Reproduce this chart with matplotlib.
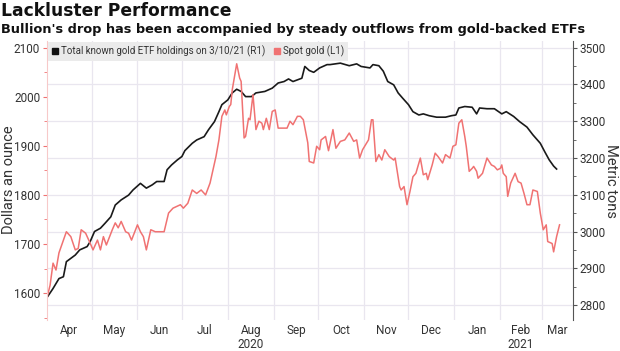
import matplotlib
matplotlib.use("Agg")
import matplotlib.pyplot as plt
from matplotlib.lines import Line2D
from matplotlib.ticker import MultipleLocator
import pandas as pd

plt.rcParams['font.family'] = ['Roboto', 'DejaVu Sans']

# spot gold, dollars an ounce (left axis)
gold_dates = [
    "2020-04-01", "2020-04-03", "2020-04-05", "2020-04-07", "2020-04-09", "2020-04-14",
    "2020-04-17", "2020-04-20", "2020-04-22", "2020-04-24", "2020-04-27", "2020-04-30",
    "2020-05-02", "2020-05-05", "2020-05-07", "2020-05-09", "2020-05-11", "2020-05-15",
    "2020-05-17", "2020-05-19", "2020-05-21", "2020-05-24", "2020-05-26", "2020-05-28",
    "2020-06-01", "2020-06-03", "2020-06-05", "2020-06-07", "2020-06-10", "2020-06-13",
    "2020-06-19", "2020-06-22", "2020-06-25", "2020-06-30", "2020-07-02", "2020-07-05",
    "2020-07-08", "2020-07-11", "2020-07-14", "2020-07-17", "2020-07-20", "2020-07-24",
    "2020-07-26", "2020-07-28", "2020-07-30", "2020-07-31", "2020-08-02", "2020-08-03",
    "2020-08-04", "2020-08-07", "2020-08-09", "2020-08-10", "2020-08-12", "2020-08-13",
    "2020-08-15", "2020-08-16", "2020-08-18", "2020-08-20", "2020-08-22", "2020-08-24",
    "2020-08-25", "2020-08-27", "2020-08-29", "2020-08-31", "2020-09-02", "2020-09-04",
    "2020-09-10", "2020-09-12", "2020-09-14", "2020-09-17", "2020-09-19", "2020-09-21",
    "2020-09-24", "2020-09-25", "2020-09-28", "2020-09-30", "2020-10-02", "2020-10-03",
    "2020-10-06", "2020-10-08", "2020-10-11", "2020-10-13", "2020-10-16", "2020-10-19",
    "2020-10-22", "2020-10-25", "2020-10-27", "2020-10-29", "2020-10-31", "2020-11-04",
    "2020-11-06", "2020-11-07", "2020-11-09", "2020-11-11", "2020-11-13", "2020-11-15",
    "2020-11-18", "2020-11-21", "2020-11-22", "2020-11-25", "2020-11-26", "2020-11-28",
    "2020-11-30", "2020-12-02", "2020-12-04", "2020-12-06", "2020-12-09", "2020-12-11",
    "2020-12-13", "2020-12-14", "2020-12-17", "2020-12-19", "2020-12-21", "2020-12-24",
    "2020-12-26", "2020-12-29", "2020-12-31", "2021-01-02", "2021-01-04", "2021-01-06",
    "2021-01-08", "2021-01-09", "2021-01-11", "2021-01-13", "2021-01-14", "2021-01-16",
    "2021-01-17", "2021-01-20", "2021-01-23", "2021-01-26", "2021-01-28", "2021-01-30",
    "2021-02-01", "2021-02-02", "2021-02-03", "2021-02-05", "2021-02-06", "2021-02-08",
    "2021-02-10", "2021-02-11", "2021-02-13", "2021-02-15", "2021-02-17", "2021-02-19",
    "2021-02-21", "2021-02-23", "2021-02-26", "2021-02-28", "2021-03-02", "2021-03-04",
    "2021-03-05", "2021-03-08", "2021-03-09", "2021-03-11", "2021-03-13",
]
gold_price = [
    1592, 1616, 1661, 1647, 1682, 1725,
    1715, 1688, 1691, 1729, 1722, 1702,
    1688, 1708, 1688, 1715, 1698, 1729,
    1743, 1733, 1746, 1725, 1722, 1708,
    1739, 1725, 1715, 1688, 1729, 1725,
    1725, 1763, 1773, 1780, 1773, 1783,
    1810, 1803, 1810, 1800, 1824, 1878,
    1912, 1960, 1973, 1963, 1980, 1984,
    2014, 2067, 2038, 2031, 1916, 1919,
    1956, 1953, 2004, 1933, 1950, 1946,
    1933, 1956, 1933, 1970, 1973, 1936,
    1936, 1950, 1943, 1960, 1960, 1953,
    1906, 1868, 1865, 1899, 1892, 1912,
    1919, 1890, 1933, 1895, 1909, 1912,
    1926, 1909, 1912, 1875, 1892, 1912,
    1953, 1953, 1868, 1882, 1871, 1892,
    1878, 1871, 1875, 1817, 1810, 1817,
    1780, 1807, 1837, 1844, 1875, 1841,
    1844, 1831, 1861, 1885, 1878, 1865,
    1882, 1875, 1899, 1902, 1946, 1953,
    1919, 1899, 1848, 1854, 1858, 1848,
    1834, 1844, 1875, 1861, 1858, 1851,
    1854, 1861, 1844, 1837, 1797, 1824,
    1837, 1844, 1827, 1824, 1803, 1780,
    1780, 1810, 1807, 1763, 1729, 1739,
    1705, 1701, 1684, 1715, 1739,
]

# total known gold ETF holdings, metric tons (right axis)
etf_dates = [
    "2020-04-01", "2020-04-05", "2020-04-09", "2020-04-12", "2020-04-14", "2020-04-17",
    "2020-04-20", "2020-04-23", "2020-04-28", "2020-04-30", "2020-05-03", "2020-05-07",
    "2020-05-10", "2020-05-14", "2020-05-17", "2020-05-21", "2020-05-26", "2020-05-29",
    "2020-06-03", "2020-06-07", "2020-06-11", "2020-06-14", "2020-06-19", "2020-06-21",
    "2020-06-24", "2020-06-28", "2020-07-01", "2020-07-03", "2020-07-08", "2020-07-11",
    "2020-07-16", "2020-07-19", "2020-07-23", "2020-07-26", "2020-07-28", "2020-08-01",
    "2020-08-04", "2020-08-07", "2020-08-10", "2020-08-13", "2020-08-17", "2020-08-20",
    "2020-08-26", "2020-08-31", "2020-09-04", "2020-09-08", "2020-09-11", "2020-09-14",
    "2020-09-20", "2020-09-22", "2020-09-25", "2020-09-28", "2020-10-02", "2020-10-07",
    "2020-10-09", "2020-10-16", "2020-10-22", "2020-10-27", "2020-10-30", "2020-11-05",
    "2020-11-07", "2020-11-11", "2020-11-14", "2020-11-17", "2020-11-21", "2020-11-24",
    "2020-11-27", "2020-12-01", "2020-12-04", "2020-12-08", "2020-12-11", "2020-12-15",
    "2020-12-20", "2020-12-26", "2020-12-30", "2021-01-02", "2021-01-04", "2021-01-08",
    "2021-01-13", "2021-01-16", "2021-01-18", "2021-01-23", "2021-01-28", "2021-02-02",
    "2021-02-05", "2021-02-10", "2021-02-14", "2021-02-19", "2021-02-23", "2021-02-28",
    "2021-03-03", "2021-03-06", "2021-03-09", "2021-03-11",
]
etf_tons = [
    2821, 2845, 2872, 2877, 2918, 2927,
    2936, 2950, 2959, 2972, 3000, 3009,
    3022, 3040, 3072, 3086, 3099, 3113,
    3131, 3118, 3127, 3136, 3136, 3168,
    3181, 3195, 3204, 3220, 3240, 3249,
    3258, 3277, 3299, 3326, 3345, 3358,
    3377, 3387, 3381, 3367, 3367, 3377,
    3381, 3390, 3404, 3408, 3415, 3408,
    3417, 3449, 3438, 3433, 3445, 3454,
    3454, 3458, 3451, 3456, 3449, 3445,
    3454, 3451, 3436, 3408, 3399, 3377,
    3363, 3345, 3326, 3317, 3320, 3315,
    3311, 3311, 3315, 3317, 3336, 3340,
    3338, 3320, 3336, 3334, 3334, 3320,
    3326, 3313, 3299, 3284, 3263, 3240,
    3217, 3195, 3178, 3170,
]

month_starts = ["2020-05-01", "2020-06-01", "2020-07-01", "2020-08-01", "2020-09-01",
                "2020-10-01", "2020-11-01", "2020-12-01", "2021-01-01", "2021-02-01",
                "2021-03-01"]
month_labels = ["Apr", "May", "Jun", "Jul", "Aug\n2020", "Sep", "Oct", "Nov", "Dec",
                "Jan", "Feb\n2021", "Mar"]

red = "#f07272"
grid_col = "#e9e6ef"
text_col = "#333333"

x_start = pd.Timestamp("2020-04-01")
x_end = pd.Timestamp("2021-03-22")

fig = plt.figure(figsize=(6.2, 3.51), dpi=100)
ax = fig.add_axes([0.076, 0.088, 0.848, 0.796])   # tons, shown on the right
ax2 = ax.twinx()                                   # dollars, shown on the left

ax.plot(pd.to_datetime(etf_dates), etf_tons, color="#1a1a1a", lw=1.2)
ax2.plot(pd.to_datetime(gold_dates), gold_price, color=red, lw=1.1)

ax.yaxis.tick_right()
ax2.yaxis.tick_left()

ax.set_ylim(2759, 3519)
ax2.set_ylim(1545, 2114)
ax.set_xlim(x_start, x_end)

for a in (ax, ax2):
    a.yaxis.set_major_locator(MultipleLocator(100))
    a.yaxis.set_minor_locator(MultipleLocator(50))

# month boundaries as gridlines, labels in the middle of each month
bounds = [x_start] + list(pd.to_datetime(month_starts)) + [x_end]
mids = [bounds[i] + (bounds[i + 1] - bounds[i]) / 2 for i in range(len(bounds) - 1)]
ax.set_xticks(pd.to_datetime(month_starts))
ax.set_xticklabels([])
ax.set_xticks(mids, minor=True)
ax.set_xticklabels(month_labels, minor=True, linespacing=1.05)
ax.tick_params(axis="x", which="both", length=0, labelsize=8.5, colors=text_col, pad=3)
ax.grid(True, axis="both", which="major", color=grid_col, lw=0.9)
ax.set_axisbelow(True)

ax.tick_params(axis="y", which="major", length=3, labelsize=8.5, labelcolor=text_col,
               color="#555555", pad=2)
ax.tick_params(axis="y", which="minor", length=2, color="#555555")
ax2.tick_params(axis="y", which="major", length=3, labelsize=8.5, labelcolor=text_col,
                color=red, pad=2)
ax2.tick_params(axis="y", which="minor", length=2, color=red)

for a in (ax, ax2):
    a.spines["top"].set_visible(False)
    a.spines["bottom"].set_visible(False)
ax2.spines["right"].set_color("#555555")
ax2.spines["left"].set_color("#f7c9c9")
ax.spines["left"].set_visible(False)
ax.spines["right"].set_visible(False)

fig.text(9 / 620, 1 - 180 / 351, "Dollars an ounce", rotation=90, fontsize=10.5,
         color=text_col, ha="center", va="center")
fig.text(611 / 620, 1 - 181 / 351, "Metric tons", rotation=270, fontsize=10.5,
         color=text_col, ha="center", va="center")

handles = [
    Line2D([], [], marker="s", ls="none", color="#111111", markersize=5),
    Line2D([], [], marker="s", ls="none", color=red, markersize=5),
]
leg = ax2.legend(handles, ["Total known gold ETF holdings on 3/10/21 (R1)", "Spot gold (L1)"],
                 loc="upper left", bbox_to_anchor=(0, 1.0), ncol=2, fontsize=7,
                 frameon=True, fancybox=False, handlelength=0.6, handletextpad=0.3,
                 columnspacing=0.9, borderaxespad=0.1, borderpad=0.4)
leg.get_frame().set_facecolor("#ebebeb")
leg.get_frame().set_edgecolor("none")
leg.get_frame().set_alpha(1)
for t in leg.get_texts():
    t.set_color(text_col)

fig.text(0.002, 0.993, "Lackluster Performance", fontsize=12.3, fontweight="bold",
         family="DejaVu Sans", va="top", ha="left", color="#111111")
fig.text(0.002, 0.935, "Bullion's drop has been accompanied by steady outflows from gold-backed ETFs",
         fontsize=9.3, fontweight="bold", family="DejaVu Sans", va="top", ha="left",
         color="#111111")

fig.savefig("out.png", dpi=100)
